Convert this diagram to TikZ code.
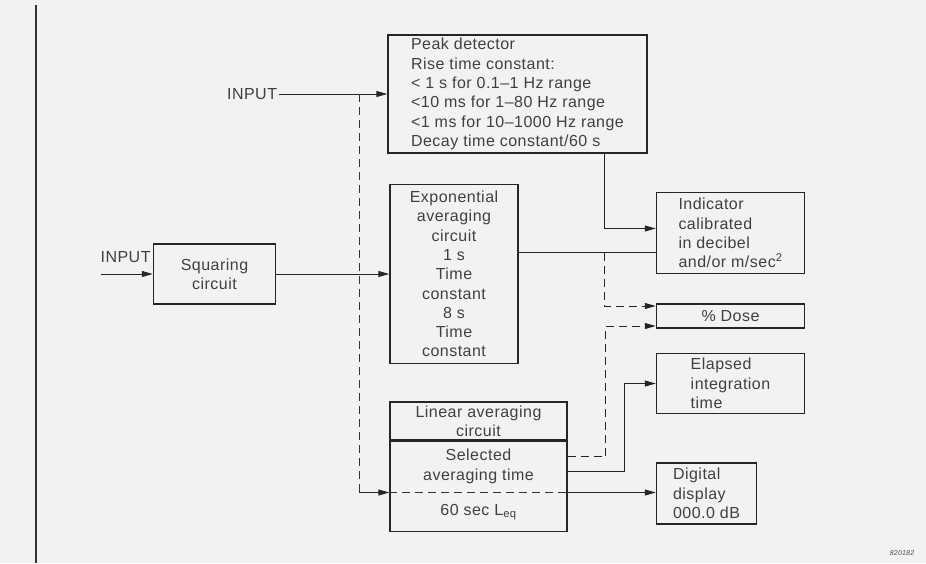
\documentclass[tikz,border=0pt]{standalone}
\usepackage{fontspec}
\setmainfont{Liberation Sans}[LetterSpace=3]
\usepackage{tikz}
\usetikzlibrary{arrows.meta,positioning}

\begin{document}
\begin{tikzpicture}[
      x=1pt, y=-1pt,
      node distance=30pt,
      box/.style={rectangle, draw=black!85, line width=1.5pt, inner sep=2pt, align=center, text=black!75, font=\fontsize{16}{19.3}\selectfont},
      lbl/.style={inner sep=2pt, text=black!75, font=\fontsize{16}{19.3}\selectfont},
      arrow/.style={-{Triangle[length=11pt,width=6pt]}, line width=1pt, draw=black!85},
      dline/.style={dash pattern=on 8pt off 5pt, line width=1pt, draw=black!80}
    ]
    \fill[black!5] (0,0) rectangle (926,563);
    \useasboundingbox (0,0) rectangle (926,563);
    \draw[line width=1.2pt, black!80] (36,5) -- (36,563);

    \node[box, align=left, minimum width=259pt, minimum height=118pt] (peak) at (517.5,94) {Peak detector\\Rise time constant:\\< 1 s for 0.1--1 Hz range\\<10 ms for 1--80 Hz range\\<1 ms for 10--1000 Hz range\\Decay time constant/60 s};
    \node[box, minimum width=128pt, minimum height=179pt, anchor=north west, below right=30pt and 2pt of peak.south west] (exp) {Exponential\\averaging\\circuit\\1 s\\Time\\constant\\8 s\\Time\\constant};
    \node[box, minimum width=122pt, minimum height=60pt, left=113pt of exp] (sq) {Squaring\\circuit};
    \node[box, minimum width=177pt, minimum height=38pt, anchor=north west, below right=37pt and 0pt of exp.south west] (lin) {Linear averaging\\circuit};
    \node[box, minimum width=177pt, minimum height=90pt, below=0pt of lin] (sel) {};
    \node[lbl, align=center] (seltxt) at ([yshift=-25.5pt]sel.north) {Selected\\averaging time};
    \node[lbl] (leq) at ([yshift=20pt]sel.south) {60 sec L\textsubscript{eq}};
    \node[box, align=left, minimum width=148pt, minimum height=81pt, anchor=north west, below right=38pt and 8pt of peak.south east] (ind) {Indicator\\calibrated\\in decibel\\and/or m/sec\textsuperscript{2}};
    \node[box, minimum width=148pt, minimum height=24pt, below=29pt of ind] (dose) {\% Dose};
    \node[box, align=left, minimum width=148pt, minimum height=60pt, below=24pt of dose] (elap) {Elapsed\\integration\\time};
    \node[box, align=left, minimum width=100pt, minimum height=61pt, anchor=north west, below right=48pt and 0pt of elap.south west] (disp) {Digital\\display\\000.0 dB};

    \node[lbl, left=108pt of peak.west] (in1) {INPUT};
    \node[lbl, anchor=east] (in2) at ([yshift=17pt]sq.west) {INPUT};
    \coordinate[left=52pt of sq.west] (in2start);
    \coordinate (tap) at ([xshift=-28pt]peak.west);
    \coordinate (selin) at ([yshift=-6pt]sel.west);
    \coordinate (selout) at ([yshift=-6pt]sel.east);
    \coordinate (tapA) at ([xshift=86pt,yshift=21.5pt]exp.east);

    \draw[arrow] (in1) -- (peak);
    \draw[arrow] (in2start) -- (sq);
    \draw[arrow] (sq) -- (exp);
    \draw[dline] (tap) -- (tap |- selin);
    \draw[arrow] (tap |- selin) -- (selin);
    \draw[dline] (selin) -- (selout);
    \draw[arrow] ([xshift=-43pt]peak.south east) |- ([yshift=4.5pt]ind.west);
    \draw[line width=1pt, black!85] ([yshift=21.5pt]exp.east) -- ([yshift=-19.5pt]ind.west);
    \draw[dline, arrow] (tapA) |- ([yshift=10pt]dose.west);
    \draw[dline, arrow] ([yshift=30pt]sel.east) -- ++(38pt,0) |- ([yshift=-10pt]dose.west);
    \draw[arrow] ([yshift=15pt]sel.east) -- ++(57pt,0) |- (elap.west);
    \draw[arrow] (selout) -- (selout -| disp.west);

    \node[text=black!70, font=\fontsize{7}{8}\selectfont\itshape] (figno) at (902,553) {820182};
  \end{tikzpicture}
\end{document}
